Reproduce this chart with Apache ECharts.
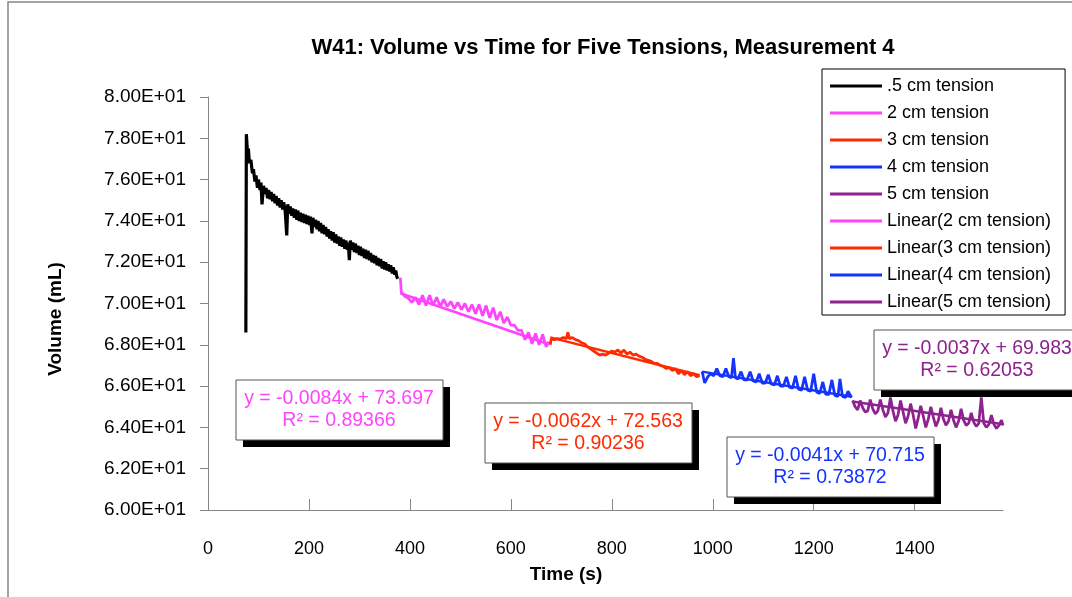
<!DOCTYPE html>
<html>
<head>
<meta charset="utf-8">
<title>W41 Volume vs Time</title>
<script src="https://cdn.jsdelivr.net/npm/echarts@6/dist/echarts.min.js"></script>
<style>
  html, body { margin: 0; padding: 0; background: #fff; }
  #chart { width: 1072px; height: 597px; }
</style>
</head>
<body>
<div id="chart"></div>
<script>
// [time (s), volume (mL)]
var tension05 = [
  [75, 68.6], [76, 78.2], [78, 77.4], [80, 77.5], [82, 76.8], [85, 76.95], [88, 76.3], [90, 76.5],
  [93, 75.9], [95, 76.2], [98, 75.6], [100, 76.0], [103, 75.5], [105, 75.85], [107, 74.8], [110, 75.7],
  [113, 75.3], [115, 75.6], [118, 75.1], [120, 75.5], [123, 75.05], [125, 75.4], [128, 74.95], [130, 75.3],
  [133, 74.85], [135, 75.2], [138, 74.75], [140, 75.1], [143, 74.65], [145, 75.0], [148, 74.55], [150, 74.9],
  [153, 74.45], [156, 73.3], [158, 74.8], [161, 74.35], [163, 74.7], [166, 74.25], [168, 74.6], [171, 74.15],
  [173, 74.55], [176, 74.05], [178, 74.5], [181, 74.0], [183, 74.4], [186, 73.95], [188, 74.35], [191, 73.9],
  [193, 74.3], [196, 73.85], [198, 74.25], [201, 73.8], [203, 74.2], [206, 73.4], [208, 74.15], [211, 73.7],
  [213, 74.05], [216, 73.6], [218, 74.0], [221, 73.5], [223, 73.9], [226, 73.4], [228, 73.8], [231, 73.35],
  [233, 73.7], [236, 73.25], [238, 73.6], [241, 73.15], [243, 73.5], [246, 73.05], [248, 73.45], [251, 72.95],
  [253, 73.35], [256, 72.9], [258, 73.25], [261, 72.8], [263, 73.2], [266, 72.75], [268, 73.1], [271, 72.65],
  [273, 73.05], [276, 72.6], [278, 72.95], [280, 72.1], [282, 73.05], [285, 72.6], [287, 72.95], [290, 72.5],
  [292, 72.9], [295, 72.45], [297, 72.8], [300, 72.35], [302, 72.75], [305, 72.3], [307, 72.65], [310, 72.2],
  [312, 72.6], [315, 72.15], [317, 72.55], [320, 72.1], [322, 72.45], [325, 72.0], [327, 72.35], [330, 71.95],
  [332, 72.3], [335, 71.85], [337, 72.2], [340, 71.8], [342, 72.15], [345, 71.7], [347, 72.05], [350, 71.65],
  [352, 72.0], [355, 71.6], [357, 71.9], [360, 71.55], [362, 71.85], [365, 71.45], [367, 71.75], [370, 71.4],
  [372, 71.6], [374, 71.3], [376, 71.2]
]

var tension2 = [
  [381, 71.25], [383, 70.55], [390, 70.35], [397, 70.25], [404, 70.05], [411, 70.3], [418, 69.95], [425, 70.4],
  [432, 69.9], [439, 70.4], [446, 69.9], [453, 70.3], [460, 69.85], [467, 70.2], [474, 69.85], [481, 70.1],
  [488, 69.75], [495, 70.05], [502, 69.7], [509, 70.0], [516, 69.6], [523, 69.95], [530, 69.5], [537, 69.95],
  [544, 69.4], [551, 69.9], [558, 69.3], [565, 69.8], [572, 69.2], [579, 69.6], [586, 69.05], [593, 69.35],
  [600, 68.95], [607, 68.95], [614, 68.7], [621, 68.7], [628, 68.25], [635, 68.6], [642, 68.05], [649, 68.55],
  [656, 68.0], [663, 68.5], [670, 67.9], [675, 68.15]
]

var tension3 = [
  [678, 68.0], [680, 68.3], [686, 68.25], [692, 68.3], [698, 68.28], [704, 68.35], [710, 68.3], [713, 68.6],
  [716, 68.3], [722, 68.35], [728, 68.25], [734, 68.2], [740, 68.1], [746, 68.05], [752, 67.9], [758, 67.8],
  [764, 67.7], [770, 67.6], [776, 67.5], [782, 67.55], [788, 67.5], [794, 67.6], [800, 67.7], [806, 67.65],
  [812, 67.75], [818, 67.6], [824, 67.75], [830, 67.55], [836, 67.65], [842, 67.5], [848, 67.55], [854, 67.45],
  [860, 67.4], [866, 67.3], [872, 67.25], [878, 67.2], [884, 67.1], [890, 67.1], [896, 67.0], [902, 66.95],
  [908, 66.85], [914, 66.9], [920, 66.75], [926, 66.85], [932, 66.6], [938, 66.75], [944, 66.55], [950, 66.7],
  [956, 66.5], [962, 66.6], [968, 66.45], [974, 66.5]
]

var tension4 = [
  [979, 66.7], [984, 66.15], [990, 66.45], [996, 66.6], [1002, 66.5], [1008, 66.85], [1014, 66.5], [1020, 66.45],
  [1026, 66.85], [1032, 66.45], [1037, 66.4], [1041, 67.35], [1045, 66.4], [1050, 66.35], [1056, 66.7], [1062, 66.3],
  [1068, 66.3], [1074, 66.7], [1080, 66.25], [1086, 66.2], [1092, 66.6], [1098, 66.15], [1104, 66.15], [1110, 66.55],
  [1116, 66.1], [1122, 66.05], [1128, 66.5], [1134, 66.0], [1140, 66.0], [1146, 66.45], [1152, 65.95], [1158, 65.9],
  [1164, 66.5], [1170, 65.85], [1176, 65.8], [1182, 66.45], [1188, 65.8], [1194, 65.75], [1200, 66.6], [1206, 65.7],
  [1212, 65.65], [1218, 66.2], [1224, 65.6], [1230, 65.6], [1236, 66.3], [1242, 65.55], [1248, 65.5], [1252, 66.35],
  [1257, 65.5], [1263, 65.45], [1268, 65.75], [1275, 65.45]
]

var tension5 = [
  [1277, 65.3], [1282, 65.0], [1287, 64.85], [1292, 65.3], [1297, 64.95], [1302, 64.75], [1307, 64.8], [1312, 65.35],
  [1317, 64.9], [1322, 64.65], [1327, 64.8], [1332, 65.35], [1337, 64.85], [1342, 64.5], [1347, 64.7], [1352, 65.45],
  [1357, 64.8], [1362, 64.3], [1367, 64.6], [1372, 65.3], [1377, 64.75], [1382, 64.2], [1387, 64.55], [1392, 65.15],
  [1397, 64.6], [1402, 63.95], [1407, 64.45], [1412, 65.05], [1417, 64.55], [1422, 64.0], [1427, 64.4], [1432, 65.0],
  [1437, 64.5], [1442, 64.05], [1447, 64.35], [1452, 64.95], [1457, 64.4], [1462, 64.1], [1467, 64.3], [1472, 64.85],
  [1477, 64.35], [1482, 64.0], [1487, 64.3], [1492, 64.9], [1497, 64.35], [1502, 64.1], [1507, 64.2], [1512, 64.7],
  [1517, 64.25], [1522, 64.05], [1527, 64.2], [1532, 65.45], [1537, 64.2], [1542, 64.0], [1547, 64.15], [1552, 64.6],
  [1557, 64.15], [1562, 63.95], [1567, 64.1], [1572, 64.35], [1575, 64.1]
]

// trendline equations printed on the chart: slope, intercept, R²
var fitSlope = [-0.0084, -0.0062, -0.0041, -0.0037]
var fitIntercept = [73.697, 72.563, 70.715, 69.983]
var fitR2 = ['0.89366', '0.90236', '0.73872', '0.62053']

var names = ['.5 cm tension', '2 cm tension', '3 cm tension', '4 cm tension', '5 cm tension']
var colors = ['#000000', '#ff44ff', '#ff2a00', '#1433ff', '#8e228e']
var widths = [3.2, 2.75, 2.75, 2.75, 2.75]
var yTicks = [60, 80, 2]
var xTicks = [0, 1575, 200]

var chart = echarts.init(document.getElementById('chart'))
var font = '"Liberation Sans", Arial, sans-serif'

var rawSets = [tension05, tension2, tension3, tension4, tension5]
var series = []
rawSets.forEach(function (d, i) {
  series.push({
    name: names[i],
    type: 'line',
    data: d,
    symbol: 'none',
    color: colors[i],
    lineStyle: { width: widths[i], color: colors[i] },
    z: 3
  })
})
for (var k = 0; k < 4; k++) {
  var d = rawSets[k + 1]
  var t0 = d[0][0]
  var t1 = d[d.length - 1][0]
  series.push({
    name: 'Linear(' + names[k + 1] + ')',
    type: 'line',
    data: [[t0, fitSlope[k] * t0 + fitIntercept[k]], [t1, fitSlope[k] * t1 + fitIntercept[k]]],
    symbol: 'none',
    color: colors[k + 1],
    lineStyle: { width: 2.5, color: colors[k + 1] },
    z: 4
  })
}

function eqText (k) {
  return 'y = ' + fitSlope[k] + 'x + ' + fitIntercept[k]
}

// label boxes: x, y of white box
var boxPos = [[236, 380], [485, 403], [727, 437], [874, 330]]
var graphics = [
  { type: 'rect', shape: { x: 8, y: 2, width: 1200, height: 800 }, style: { fill: 'none', stroke: '#858585', lineWidth: 1.5 }, silent: true },
  { type: 'text', x: 56, y: 319, rotation: Math.PI / 2,
    style: { text: 'Volume (mL)', font: 'bold 19px ' + font, fill: '#000', textAlign: 'center', textVerticalAlign: 'middle' } },
  { type: 'text', x: 566, y: 575,
    style: { text: 'Time (s)', font: 'bold 19px ' + font, fill: '#000', textAlign: 'center', textVerticalAlign: 'middle' } }
]
boxPos.forEach(function (p, k) {
  graphics.push({ type: 'rect', shape: { x: p[0] + 7, y: p[1] + 7, width: 207, height: 60 }, style: { fill: '#000' }, z: 10 })
  graphics.push({ type: 'rect', shape: { x: p[0], y: p[1], width: 207, height: 60 }, style: { fill: '#fff', stroke: '#555', lineWidth: 1 }, z: 11 })
  graphics.push({ type: 'text', x: p[0] + 103, y: p[1] + 19, z: 12,
    style: { text: eqText(k), font: '19.5px ' + font, fill: colors[k + 1], textAlign: 'center', textVerticalAlign: 'middle' } })
  graphics.push({ type: 'text', x: p[0] + 103, y: p[1] + 41, z: 12,
    style: { text: 'R² = ' + fitR2[k], font: '19.5px ' + font, fill: colors[k + 1], textAlign: 'center', textVerticalAlign: 'middle' } })
})

var option = {
  animation: false,
  backgroundColor: '#fff',
  title: {
    text: 'W41: Volume vs Time for Five Tensions, Measurement 4',
    left: 598,
    textAlign: 'center',
    top: 32,
    textStyle: { fontFamily: font, fontSize: 22, fontWeight: 'bold', color: '#000' }
  },
  legend: {
    orient: 'vertical',
    left: 822,
    top: 69,
    padding: [8, 14, 4, 8],
    borderColor: '#000',
    borderWidth: 1,
    icon: 'rect',
    itemWidth: 52,
    itemHeight: 3,
    itemGap: 9,
    textStyle: { fontFamily: font, fontSize: 18, color: '#000', lineHeight: 18 },
    data: series.map(function (s) { return s.name })
  },
  grid: { left: 208, right: 69, top: 97, bottom: 87 },
  xAxis: {
    type: 'value',
    min: xTicks[0],
    max: xTicks[1],
    interval: xTicks[2],
    splitLine: { show: false },
    axisLine: { lineStyle: { color: '#868686', width: 1 } },
    axisTick: { inside: true, length: 11, lineStyle: { color: '#868686' } },
    axisLabel: {
      showMaxLabel: false, margin: 30, color: '#000', fontFamily: font, fontSize: 18,
      formatter: function (v) { return String(v) }
    }
  },
  yAxis: {
    type: 'value',
    min: yTicks[0],
    max: yTicks[1],
    interval: yTicks[2],
    splitLine: { show: false },
    axisLine: { show: true, lineStyle: { color: '#868686', width: 1 } },
    axisTick: { show: true, length: 8, lineStyle: { color: '#868686' } },
    axisLabel: {
      margin: 22, color: '#000', fontFamily: font, fontSize: 19,
      formatter: function (v) {
        return v.toExponential(2).toUpperCase().replace(/E([+-])(\d)$/, function (m, s, n) { return 'E' + s + '0' + n })
      }
    }
  },
  graphic: graphics,
  series: series
}
chart.setOption(option)
</script>
</body>
</html>
